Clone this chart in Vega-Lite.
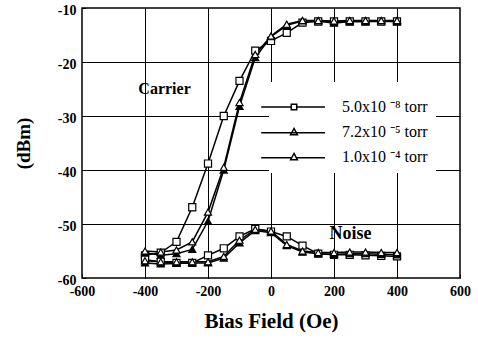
{
  "$schema": "https://vega.github.io/schema/vega-lite/v6.json",
  "autosize": {"type": "none"},
  "width": 378,
  "height": 270,
  "padding": {"left": 82, "top": 8, "right": 18, "bottom": 60},
  "background": "white",
  "config": {
    "view": {"stroke": "black", "strokeWidth": 1.5},
    "font": "Liberation Serif"
  },
  "datasets": {
    "d": [
      {"field": -400, "dBm": -55.8, "pressure": "5.0x10 ⁻⁸ torr", "signal": "Carrier"},
      {"field": -350, "dBm": -55.3, "pressure": "5.0x10 ⁻⁸ torr", "signal": "Carrier"},
      {"field": -300, "dBm": -53.3, "pressure": "5.0x10 ⁻⁸ torr", "signal": "Carrier"},
      {"field": -250, "dBm": -46.9, "pressure": "5.0x10 ⁻⁸ torr", "signal": "Carrier"},
      {"field": -200, "dBm": -38.8, "pressure": "5.0x10 ⁻⁸ torr", "signal": "Carrier"},
      {"field": -150, "dBm": -30.0, "pressure": "5.0x10 ⁻⁸ torr", "signal": "Carrier"},
      {"field": -100, "dBm": -23.5, "pressure": "5.0x10 ⁻⁸ torr", "signal": "Carrier"},
      {"field": -50, "dBm": -17.9, "pressure": "5.0x10 ⁻⁸ torr", "signal": "Carrier"},
      {"field": 0, "dBm": -16.1, "pressure": "5.0x10 ⁻⁸ torr", "signal": "Carrier"},
      {"field": 50, "dBm": -14.6, "pressure": "5.0x10 ⁻⁸ torr", "signal": "Carrier"},
      {"field": 100, "dBm": -12.7, "pressure": "5.0x10 ⁻⁸ torr", "signal": "Carrier"},
      {"field": 150, "dBm": -12.5, "pressure": "5.0x10 ⁻⁸ torr", "signal": "Carrier"},
      {"field": 200, "dBm": -12.5, "pressure": "5.0x10 ⁻⁸ torr", "signal": "Carrier"},
      {"field": 250, "dBm": -12.5, "pressure": "5.0x10 ⁻⁸ torr", "signal": "Carrier"},
      {"field": 300, "dBm": -12.5, "pressure": "5.0x10 ⁻⁸ torr", "signal": "Carrier"},
      {"field": 350, "dBm": -12.5, "pressure": "5.0x10 ⁻⁸ torr", "signal": "Carrier"},
      {"field": 400, "dBm": -12.5, "pressure": "5.0x10 ⁻⁸ torr", "signal": "Carrier"},

      {"field": -400, "dBm": -55.3, "pressure": "7.2x10 ⁻⁵ torr", "signal": "Carrier"},
      {"field": -350, "dBm": -55.8, "pressure": "7.2x10 ⁻⁵ torr", "signal": "Carrier"},
      {"field": -300, "dBm": -55.5, "pressure": "7.2x10 ⁻⁵ torr", "signal": "Carrier"},
      {"field": -250, "dBm": -54.7, "pressure": "7.2x10 ⁻⁵ torr", "signal": "Carrier"},
      {"field": -200, "dBm": -49.5, "pressure": "7.2x10 ⁻⁵ torr", "signal": "Carrier"},
      {"field": -150, "dBm": -40.0, "pressure": "7.2x10 ⁻⁵ torr", "signal": "Carrier"},
      {"field": -100, "dBm": -28.2, "pressure": "7.2x10 ⁻⁵ torr", "signal": "Carrier"},
      {"field": -50, "dBm": -19.2, "pressure": "7.2x10 ⁻⁵ torr", "signal": "Carrier"},
      {"field": 0, "dBm": -15.3, "pressure": "7.2x10 ⁻⁵ torr", "signal": "Carrier"},
      {"field": 50, "dBm": -13.2, "pressure": "7.2x10 ⁻⁵ torr", "signal": "Carrier"},
      {"field": 100, "dBm": -12.4, "pressure": "7.2x10 ⁻⁵ torr", "signal": "Carrier"},
      {"field": 150, "dBm": -12.4, "pressure": "7.2x10 ⁻⁵ torr", "signal": "Carrier"},
      {"field": 200, "dBm": -12.8, "pressure": "7.2x10 ⁻⁵ torr", "signal": "Carrier"},
      {"field": 250, "dBm": -12.5, "pressure": "7.2x10 ⁻⁵ torr", "signal": "Carrier"},
      {"field": 300, "dBm": -12.5, "pressure": "7.2x10 ⁻⁵ torr", "signal": "Carrier"},
      {"field": 350, "dBm": -12.4, "pressure": "7.2x10 ⁻⁵ torr", "signal": "Carrier"},
      {"field": 400, "dBm": -12.5, "pressure": "7.2x10 ⁻⁵ torr", "signal": "Carrier"},

      {"field": -400, "dBm": -55.0, "pressure": "1.0x10 ⁻⁴ torr", "signal": "Carrier"},
      {"field": -350, "dBm": -55.2, "pressure": "1.0x10 ⁻⁴ torr", "signal": "Carrier"},
      {"field": -300, "dBm": -54.8, "pressure": "1.0x10 ⁻⁴ torr", "signal": "Carrier"},
      {"field": -250, "dBm": -53.3, "pressure": "1.0x10 ⁻⁴ torr", "signal": "Carrier"},
      {"field": -200, "dBm": -47.8, "pressure": "1.0x10 ⁻⁴ torr", "signal": "Carrier"},
      {"field": -150, "dBm": -39.5, "pressure": "1.0x10 ⁻⁴ torr", "signal": "Carrier"},
      {"field": -100, "dBm": -27.5, "pressure": "1.0x10 ⁻⁴ torr", "signal": "Carrier"},
      {"field": -50, "dBm": -18.6, "pressure": "1.0x10 ⁻⁴ torr", "signal": "Carrier"},
      {"field": 0, "dBm": -15.2, "pressure": "1.0x10 ⁻⁴ torr", "signal": "Carrier"},
      {"field": 50, "dBm": -13.0, "pressure": "1.0x10 ⁻⁴ torr", "signal": "Carrier"},
      {"field": 100, "dBm": -12.3, "pressure": "1.0x10 ⁻⁴ torr", "signal": "Carrier"},
      {"field": 150, "dBm": -12.3, "pressure": "1.0x10 ⁻⁴ torr", "signal": "Carrier"},
      {"field": 200, "dBm": -12.4, "pressure": "1.0x10 ⁻⁴ torr", "signal": "Carrier"},
      {"field": 250, "dBm": -12.3, "pressure": "1.0x10 ⁻⁴ torr", "signal": "Carrier"},
      {"field": 300, "dBm": -12.3, "pressure": "1.0x10 ⁻⁴ torr", "signal": "Carrier"},
      {"field": 350, "dBm": -12.3, "pressure": "1.0x10 ⁻⁴ torr", "signal": "Carrier"},
      {"field": 400, "dBm": -12.3, "pressure": "1.0x10 ⁻⁴ torr", "signal": "Carrier"},

      {"field": -400, "dBm": -56.6, "pressure": "5.0x10 ⁻⁸ torr", "signal": "Noise"},
      {"field": -350, "dBm": -57.0, "pressure": "5.0x10 ⁻⁸ torr", "signal": "Noise"},
      {"field": -300, "dBm": -57.2, "pressure": "5.0x10 ⁻⁸ torr", "signal": "Noise"},
      {"field": -250, "dBm": -57.2, "pressure": "5.0x10 ⁻⁸ torr", "signal": "Noise"},
      {"field": -200, "dBm": -55.8, "pressure": "5.0x10 ⁻⁸ torr", "signal": "Noise"},
      {"field": -150, "dBm": -54.5, "pressure": "5.0x10 ⁻⁸ torr", "signal": "Noise"},
      {"field": -100, "dBm": -52.3, "pressure": "5.0x10 ⁻⁸ torr", "signal": "Noise"},
      {"field": -50, "dBm": -50.9, "pressure": "5.0x10 ⁻⁸ torr", "signal": "Noise"},
      {"field": 0, "dBm": -51.4, "pressure": "5.0x10 ⁻⁸ torr", "signal": "Noise"},
      {"field": 50, "dBm": -52.3, "pressure": "5.0x10 ⁻⁸ torr", "signal": "Noise"},
      {"field": 100, "dBm": -54.0, "pressure": "5.0x10 ⁻⁸ torr", "signal": "Noise"},
      {"field": 150, "dBm": -55.5, "pressure": "5.0x10 ⁻⁸ torr", "signal": "Noise"},
      {"field": 200, "dBm": -55.7, "pressure": "5.0x10 ⁻⁸ torr", "signal": "Noise"},
      {"field": 250, "dBm": -55.7, "pressure": "5.0x10 ⁻⁸ torr", "signal": "Noise"},
      {"field": 300, "dBm": -55.8, "pressure": "5.0x10 ⁻⁸ torr", "signal": "Noise"},
      {"field": 350, "dBm": -55.9, "pressure": "5.0x10 ⁻⁸ torr", "signal": "Noise"},
      {"field": 400, "dBm": -56.0, "pressure": "5.0x10 ⁻⁸ torr", "signal": "Noise"},

      {"field": -400, "dBm": -57.2, "pressure": "7.2x10 ⁻⁵ torr", "signal": "Noise"},
      {"field": -350, "dBm": -57.4, "pressure": "7.2x10 ⁻⁵ torr", "signal": "Noise"},
      {"field": -300, "dBm": -57.3, "pressure": "7.2x10 ⁻⁵ torr", "signal": "Noise"},
      {"field": -250, "dBm": -57.2, "pressure": "7.2x10 ⁻⁵ torr", "signal": "Noise"},
      {"field": -200, "dBm": -57.2, "pressure": "7.2x10 ⁻⁵ torr", "signal": "Noise"},
      {"field": -150, "dBm": -56.3, "pressure": "7.2x10 ⁻⁵ torr", "signal": "Noise"},
      {"field": -100, "dBm": -53.5, "pressure": "7.2x10 ⁻⁵ torr", "signal": "Noise"},
      {"field": -50, "dBm": -51.2, "pressure": "7.2x10 ⁻⁵ torr", "signal": "Noise"},
      {"field": 0, "dBm": -51.6, "pressure": "7.2x10 ⁻⁵ torr", "signal": "Noise"},
      {"field": 50, "dBm": -54.0, "pressure": "7.2x10 ⁻⁵ torr", "signal": "Noise"},
      {"field": 100, "dBm": -55.2, "pressure": "7.2x10 ⁻⁵ torr", "signal": "Noise"},
      {"field": 150, "dBm": -55.5, "pressure": "7.2x10 ⁻⁵ torr", "signal": "Noise"},
      {"field": 200, "dBm": -55.6, "pressure": "7.2x10 ⁻⁵ torr", "signal": "Noise"},
      {"field": 250, "dBm": -55.5, "pressure": "7.2x10 ⁻⁵ torr", "signal": "Noise"},
      {"field": 300, "dBm": -55.5, "pressure": "7.2x10 ⁻⁵ torr", "signal": "Noise"},
      {"field": 350, "dBm": -55.6, "pressure": "7.2x10 ⁻⁵ torr", "signal": "Noise"},
      {"field": 400, "dBm": -55.7, "pressure": "7.2x10 ⁻⁵ torr", "signal": "Noise"},

      {"field": -400, "dBm": -56.8, "pressure": "1.0x10 ⁻⁴ torr", "signal": "Noise"},
      {"field": -350, "dBm": -57.0, "pressure": "1.0x10 ⁻⁴ torr", "signal": "Noise"},
      {"field": -300, "dBm": -57.0, "pressure": "1.0x10 ⁻⁴ torr", "signal": "Noise"},
      {"field": -250, "dBm": -57.0, "pressure": "1.0x10 ⁻⁴ torr", "signal": "Noise"},
      {"field": -200, "dBm": -57.0, "pressure": "1.0x10 ⁻⁴ torr", "signal": "Noise"},
      {"field": -150, "dBm": -56.0, "pressure": "1.0x10 ⁻⁴ torr", "signal": "Noise"},
      {"field": -100, "dBm": -53.0, "pressure": "1.0x10 ⁻⁴ torr", "signal": "Noise"},
      {"field": -50, "dBm": -51.0, "pressure": "1.0x10 ⁻⁴ torr", "signal": "Noise"},
      {"field": 0, "dBm": -51.3, "pressure": "1.0x10 ⁻⁴ torr", "signal": "Noise"},
      {"field": 50, "dBm": -53.8, "pressure": "1.0x10 ⁻⁴ torr", "signal": "Noise"},
      {"field": 100, "dBm": -55.0, "pressure": "1.0x10 ⁻⁴ torr", "signal": "Noise"},
      {"field": 150, "dBm": -55.3, "pressure": "1.0x10 ⁻⁴ torr", "signal": "Noise"},
      {"field": 200, "dBm": -55.3, "pressure": "1.0x10 ⁻⁴ torr", "signal": "Noise"},
      {"field": 250, "dBm": -55.2, "pressure": "1.0x10 ⁻⁴ torr", "signal": "Noise"},
      {"field": 300, "dBm": -55.2, "pressure": "1.0x10 ⁻⁴ torr", "signal": "Noise"},
      {"field": 350, "dBm": -55.3, "pressure": "1.0x10 ⁻⁴ torr", "signal": "Noise"},
      {"field": 400, "dBm": -55.3, "pressure": "1.0x10 ⁻⁴ torr", "signal": "Noise"}
    ]
  },
  "layer": [
    {
      "data": {"name": "d"},
      "mark": {"type": "line", "color": "black", "strokeWidth": 1.5},
      "encoding": {
        "x": {
          "field": "field", "type": "quantitative",
          "scale": {"domain": [-600, 600], "nice": false, "zero": false},
          "axis": {
            "title": "Bias  Field  (Oe)",
            "titleFont": "Liberation Serif", "titleFontSize": 21, "titleFontWeight": "bold",
            "titlePadding": 12, "titleColor": "black",
            "values": [-600, -500, -400, -300, -200, -100, 0, 100, 200, 300, 400, 500, 600],
            "labelExpr": "datum.value % 200 === 0 ? replace(datum.label, '−', '-') : ''",
            "labelFont": "Liberation Serif", "labelFontSize": 14, "labelFontWeight": "bold",
            "labelColor": "black", "labelPadding": 10, "labelFlush": false,
            "domain": false,
            "ticks": true, "tickSize": -4, "tickColor": "black", "tickWidth": 1,
            "grid": true, "gridColor": "black", "gridWidth": 1,
            "gridOpacity": {"condition": {"test": "datum.value % 200 === 0 && abs(datum.value) < 600", "value": 1}, "value": 0}
          }
        },
        "y": {
          "field": "dBm", "type": "quantitative",
          "scale": {"domain": [-60, -10], "nice": false, "zero": false},
          "axis": {
            "title": "(dBm)",
            "titleFont": "Liberation Serif", "titleFontSize": 19, "titleFontWeight": "bold",
            "titlePadding": 24, "titleColor": "black",
            "values": [-60, -55, -50, -45, -40, -35, -30, -25, -20, -15, -10],
            "labelExpr": "datum.value % 10 === 0 ? replace(datum.label, '−', '-') : ''",
            "labelFont": "Liberation Serif", "labelFontSize": 14, "labelFontWeight": "bold",
            "labelColor": "black", "labelPadding": 10, "labelOffset": 2, "labelFlush": false,
            "domain": false,
            "ticks": true, "tickSize": -4, "tickColor": "black", "tickWidth": 1,
            "grid": true, "gridColor": "black", "gridWidth": 1,
            "gridOpacity": {"condition": {"test": "datum.value % 10 === 0 && datum.value > -60 && datum.value < -10", "value": 1}, "value": 0}
          }
        },
        "detail": [{"field": "pressure"}, {"field": "signal"}]
      }
    },
    {
      "data": {"name": "d"},
      "mark": {"type": "point", "filled": true, "stroke": "black", "strokeWidth": 1.2, "size": 50, "opacity": 1},
      "encoding": {
        "x": {"field": "field", "type": "quantitative"},
        "y": {"field": "dBm", "type": "quantitative"},
        "shape": {
          "field": "pressure", "type": "nominal",
          "scale": {"domain": ["5.0x10 ⁻⁸ torr", "7.2x10 ⁻⁵ torr", "1.0x10 ⁻⁴ torr"], "range": ["square", "triangle-up", "triangle-up"]},
          "legend": null
        },
        "fill": {
          "field": "pressure", "type": "nominal",
          "scale": {"domain": ["5.0x10 ⁻⁸ torr", "7.2x10 ⁻⁵ torr", "1.0x10 ⁻⁴ torr"], "range": ["white", "black", "white"]},
          "legend": null
        }
      }
    },
    {
      "data": {"name": "d"},
      "mark": {"type": "point", "filled": false, "color": "black", "opacity": 0, "size": 10},
      "encoding": {
        "x": {"field": "field", "type": "quantitative"},
        "y": {"field": "dBm", "type": "quantitative"},
        "shape": {
          "field": "pressure", "type": "nominal",
          "scale": {
            "domain": ["5.0x10 ⁻⁸ torr", "7.2x10 ⁻⁵ torr", "1.0x10 ⁻⁴ torr"],
            "range": [
              "M-2.05,0H-0.17M0.17,0H1.94M-0.17,-0.17H0.17V0.17H-0.17Z",
              "M-2.05,0.04H1.94M0,-0.22L0.21,0.17L-0.21,0.17Z",
              "M-2.05,0.04H-0.12M0.12,0.04H1.94M0,-0.22L0.21,0.17L-0.21,0.17Z"
            ]
          },
          "legend": {
            "title": null,
            "orient": "none", "legendX": 187, "legendY": 74,
            "direction": "vertical",
            "fillColor": "white", "padding": 8,
            "symbolSize": 1024, "symbolStrokeWidth": 1.5, "symbolStrokeColor": "black",
            "symbolOpacity": 1,
            "labelFont": "Liberation Serif", "labelFontSize": 16, "labelColor": "black",
            "labelOffset": 31, "labelLimit": 200,
            "rowPadding": 0,
            "encode": {
              "symbols": {
                "update": {
                  "fill": {"signal": "datum.value === '7.2x10 ⁻⁵ torr' ? 'black' : 'white'"},
                  "stroke": {"value": "black"},
                  "opacity": {"value": 1},
                  "fillOpacity": {"value": 1},
                  "strokeOpacity": {"value": 1}
                }
              }
            }
          }
        }
      }
    },
    {
      "data": {"values": [{"label": "Carrier", "field": -338, "dBm": -25}]},
      "mark": {"type": "text", "font": "Liberation Serif", "fontSize": 16, "fontWeight": "bold", "color": "black", "align": "center", "baseline": "middle"},
      "encoding": {
        "x": {"field": "field", "type": "quantitative"},
        "y": {"field": "dBm", "type": "quantitative"},
        "text": {"field": "label"}
      }
    },
    {
      "data": {"values": [{"label": "Noise", "field": 252, "dBm": -51.8}]},
      "mark": {"type": "text", "font": "Liberation Serif", "fontSize": 18, "fontWeight": "bold", "color": "black", "align": "center", "baseline": "middle"},
      "encoding": {
        "x": {"field": "field", "type": "quantitative"},
        "y": {"field": "dBm", "type": "quantitative"},
        "text": {"field": "label"}
      }
    }
  ],
  "resolve": {"scale": {"shape": "independent"}, "legend": {"shape": "independent"}}
}
